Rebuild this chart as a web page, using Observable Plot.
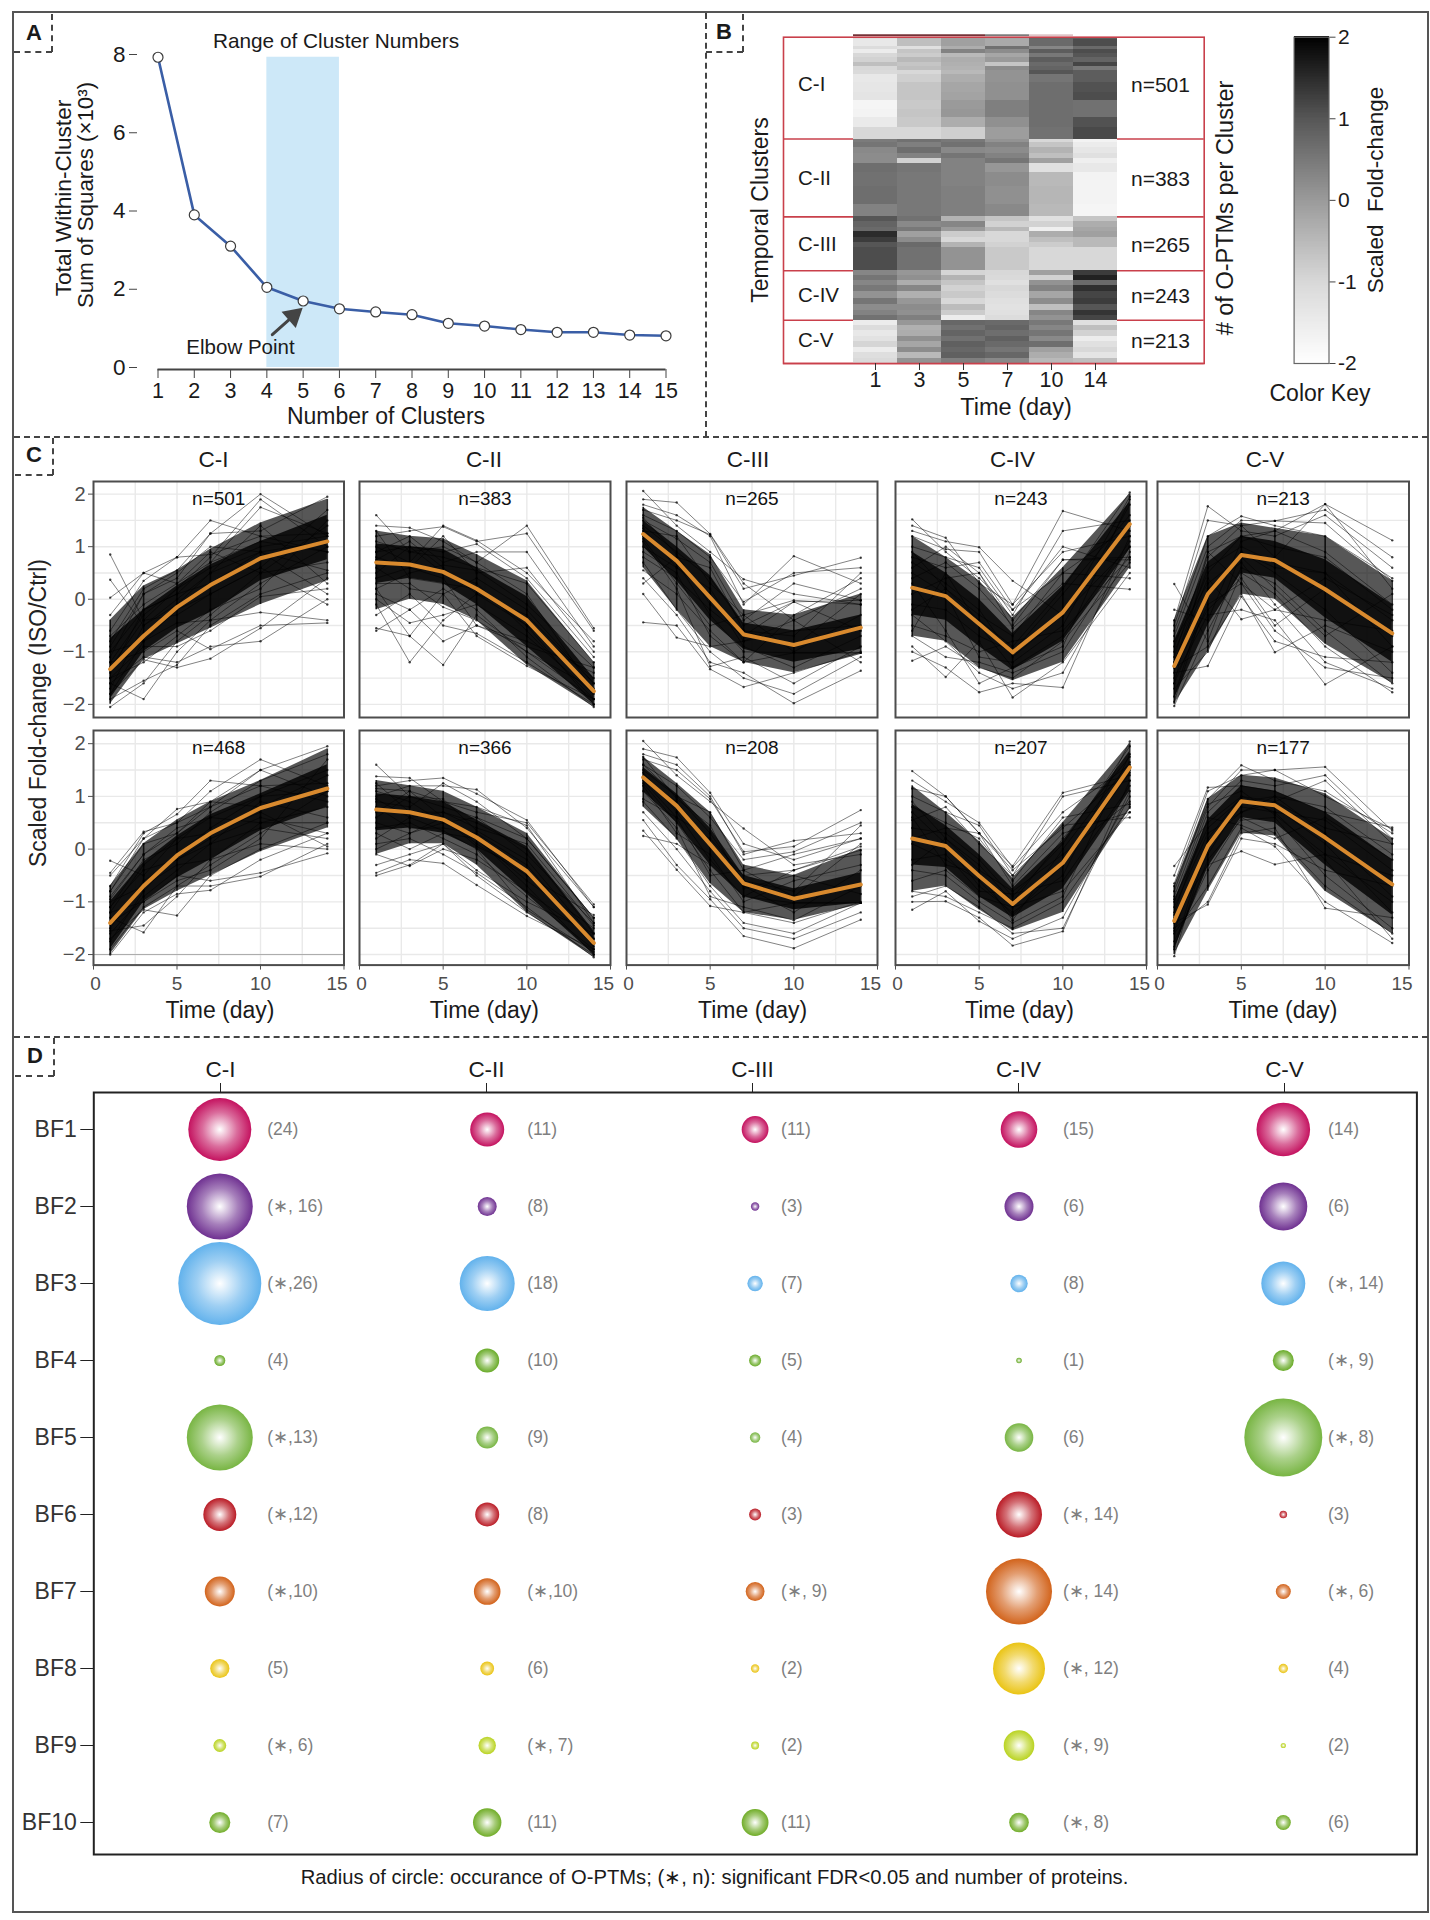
<!DOCTYPE html>
<html><head><meta charset="utf-8">
<script src="https://cdn.jsdelivr.net/npm/d3@7"></script>
<script src="https://cdn.jsdelivr.net/npm/@observablehq/plot@0.6"></script>
<style>
html,body{margin:0;padding:0;background:#fff}
#page{position:relative;width:1430px;height:1920px;overflow:hidden;font-family:"Liberation Sans",Arial,sans-serif;color:#1a1a1a}
.lab{position:absolute;white-space:pre;line-height:1}
.edge{position:absolute;box-sizing:border-box}
</style></head><body><div id="page"></div>
<script>
// ---------- Panel A ----------
const clusterCounts=[1,2,3,4,5,6,7,8,9,10,11,12,13,14,15];
const withinSS=[7.93,3.9,3.1,2.05,1.7,1.5,1.42,1.35,1.13,1.06,.97,.9,.9,.83,.81];
const elbowRange=[{x1:4,x2:6,y1:0,y2:7.93}];
const elbowArrow=[{x1:4.15,y1:.84,x2:4.73,y2:1.32}];
// ---------- Panel B ----------
const heatDays=["1","3","5","7","10","14"];
const clusterNames=["C-I","C-II","C-III","C-IV","C-V"];
const clusterSizes=[501,383,265,243,213];
const heatSpanI=[12,33,17,17,21,25,20,21,17,41,50,36,46,41,45,59];
const heatI=[[-1.2,-.5,-.1,-.2,.75,.9],[-1.4,-.6,-.1,-.25,.7,1.1],[-1.1,-1.2,-.3,.6,.3,.7],[-1.5,-.7,.35,.2,.9,1.1],[-1,-.8,-.5,-.2,.5,1],[-.9,-.5,-.3,0,.9,.8],[-.6,-.7,-.35,-.7,.7,1.2],[-1,-.6,-.4,.2,.8,.5],[-1.05,-1,-.5,.1,1,.9],[-1.4,-.85,-.3,.1,.55,.9],[-1.35,-.7,-.2,.15,.65,1.05],[-1.3,-.7,-.15,.15,.65,1.1],[-1.75,-.75,0,.4,.65,.6],[-1.7,-.7,.05,.4,.65,.6],[-1.45,-.75,-.3,.15,.65,1.05],[-1,-1,-.85,-.05,.6,1.15]];
const heatSpanII=[17,25,28,26,25,45,66,91,57,3];
const heatII=[[.45,.6,.5,.1,-1,-1.7],[.55,.4,.6,.35,-.7,-1.5],[.25,.65,.25,.2,-.4,-1.35],[.2,.35,.55,.35,-.6,-1.2],[.2,-.9,.35,.55,-.1,-1.6],[.65,.55,.35,.05,-1.2,-1.4],[.6,.5,.35,.2,-.5,-1.7],[.65,.5,.4,.15,-.45,-1.7],[.35,.5,.4,.25,-.5,-1.75],[1.2,.7,-.7,-.5,-.9,-.2]];
const heatSpanIII=[24,27,20,30,24,24,116];
const heatIII=[[1,.6,-.4,-.7,-1.2,-.7],[.8,.25,.3,-.9,-.9,-.3],[.7,.5,0,-.5,-1.6,-.2],[1.5,-.1,-.8,-1,-.3,-.1],[1.3,.2,-1,-1,-.6,-.5],[1,.7,-.4,-.9,-.8,-.5],[1.1,.6,.1,-.75,-1,-1]];
const heatSpanIV=[21,25,28,30,33,30,28,24,24];
const heatIV=[[.3,.05,-.95,-1,-.1,1.3],[.55,.15,-.4,-1.05,-.9,1.6],[.3,-.3,-.7,-1.2,.1,.7],[.5,.3,-.9,-1,.35,1.45],[.1,-.35,-.75,-1.1,-.2,1.2],[.55,.05,-1,-1.2,.2,1.3],[.2,.2,-.55,-1.25,-.6,1],[.35,.15,-.8,-1.2,.3,1.4],[.6,.4,-1.5,-1.1,.1,1.2]];
const heatSpanV=[25,25,28,29,25,28,29,24];
const heatV=[[-1.5,.05,.75,.7,.5,-1.2],[-1.1,-.35,.6,.8,.3,-.6],[-1.4,-.3,.8,.65,.55,-.9],[-1.25,.15,.6,.85,.25,-1.5],[-.95,-.2,.85,.7,.65,-1.2],[-1.5,.2,.75,.55,-.1,-1],[-1.15,-.5,.85,.75,-.3,-1.3],[-1.05,.1,.4,.25,-.5,-.6]];
const keyTicks=[-2,-1,0,1,2];
// ---------- Panel C ----------
const days=[1,3,5,7,10,14];
const nTop=[501,383,265,243,213], nBottom=[468,366,208,207,177];
const meanTop=[[-1.33,-.7,-.15,.27,.78,1.1],[.7,.66,.52,.2,-.4,-1.75],[1.24,.73,.03,-.67,-.87,-.54],[.22,.06,-.47,-1.01,-.25,1.43],[-1.27,.1,.84,.74,.19,-.65]];
const meanBottom=[[-1.4,-.7,-.12,.3,.78,1.15],[.75,.7,.56,.22,-.42,-1.78],[1.36,.82,.09,-.65,-.94,-.67],[.2,.06,-.51,-1.04,-.26,1.55],[-1.36,.06,.91,.83,.22,-.67]];
// each band list: wide high, wide low, core high, core low
const bandsTop=[
[[-.4,.25,.55,.95,1.45,1.9],[-2,-1.15,-.85,-.55,-.1,.35],[-.75,-.2,.25,.65,1.1,1.6],[-1.9,-1,-.55,-.25,.35,.75]],
[[1.3,1.2,1.15,.85,.35,-1.2],[-.2,0,-.1,-.4,-1.25,-2.05],[1.05,1,.95,.6,.05,-1.5],[.3,.4,.3,-.1,-.9,-2]],
[[1.75,1.3,.85,-.2,-.3,.1],[.6,-.2,-.9,-1.2,-1.4,-1.05],[1.5,1,.45,-.45,-.6,-.3],[1,.35,-.4,-.95,-1.2,-.95]],
[[1.2,.8,.35,-.35,.6,2],[-.7,-.8,-1.3,-1.55,-1.2,.6],[.9,.5,0,-.65,.25,1.85],[-.3,-.4,-.9,-1.35,-.8,.95]],
[[-.4,1.2,1.45,1.35,1.2,.35],[-2,-1,.1,0,-.85,-1.6],[-.8,.7,1.2,1.1,.75,-.1],[-1.9,-.5,.5,.4,-.35,-1.2]]];
const bandsBottom=[
[[-.7,.1,.55,.9,1.3,1.9],[-2,-1.15,-.8,-.5,-.05,.4],[-1,-.25,.25,.65,1.05,1.6],[-1.9,-1,-.55,-.2,.35,.8]],
[[1.3,1.2,1.1,.8,.3,-1.3],[-.1,.1,.1,-.3,-1.2,-2.05],[1.05,1,.9,.55,.05,-1.55],[.35,.4,.3,0,-.85,-2]],
[[1.75,1.25,.7,-.3,-.5,0],[.8,.2,-.65,-1.2,-1.35,-1.05],[1.55,1.05,.4,-.5,-.75,-.45],[1.1,.5,-.3,-.9,-1.15,-1.02]],
[[1.2,.7,.15,-.55,.5,2],[-.8,-.7,-1.15,-1.55,-1.2,.75],[.85,.45,-.1,-.75,.15,1.85],[-.3,-.35,-.9,-1.3,-.75,1.1]],
[[-.7,.95,1.4,1.35,1.05,.2],[-2,-.8,.3,.25,-.8,-1.6],[-1,.55,1.2,1.1,.7,-.2],[-1.9,-.35,.6,.5,-.3,-1.25]]];
const tracesTopI=[[.85,-.4,.2,.6,1,1.2],[.37,-.5,-.1,.5,.9,1.1],[.03,.5,.3,.7,1.1,.9],[-.3,.5,.8,.85,1.2,.9],[-.6,.35,.8,1.5,1.2,1.25],[-.8,.2,.55,1.25,1.3,1.95],[-1.1,.1,.4,1.25,2,1.2],[-1.2,-.3,.2,.8,1.9,1],[-1.4,-.2,.1,.7,1.75,1.25],[-1.6,-1.9,-1,-.4,.3,1],[-2.05,-1.6,-.8,-.3,.5,.7],[-1.9,-1.55,-1.25,-.5,.1,.5],[-1.8,-1.15,-1.3,-1.13,-.55,.4],[-1.6,-1.1,-1.2,-.9,-.8,0],[-1.2,-1,-.6,-.95,-.5,-.45],[-1,-.8,-.45,-.4,-.25,-.4],[-1.5,-.9,-.9,-.6,.05,.2],[-1.3,-.4,-.3,.1,.6,-.1],[-1,-.2,.1,.3,.9,.1],[-1.7,-.5,0,.5,1.4,.3],[-.9,.1,.5,1,.9,.55],[-1.5,-1.2,-.7,-.2,.2,1.5],[-1.8,-.8,-.2,.1,.6,1.7],[-.7,-.1,.3,.9,.5,1.4]];
const tracesTopII=[[1.6,.9,.8,.6,.3,-1.2],[1.4,1.36,1.1,.7,1.4,-.55],[1.2,1.3,1.38,1.1,1.25,-.6],[1,.7,1.4,1.12,.5,-.8],[.9,1.2,.7,.9,.9,-.9],[.8,.6,1.2,.5,.6,-1],[.5,1,.9,1.05,.4,-1.1],[-.1,-1.2,-.4,.1,-.5,-1.5],[.2,-.7,-1.25,-.3,-1,-1.7],[-.6,-.2,-.8,-.5,-.8,-1.4],[-.55,-.7,.1,-.7,-1.27,-1.9],[-.3,.1,-.5,-.65,-1.2,-2],[0,-.45,-.3,-.1,-.7,-1.8],[.1,-.2,.2,-.2,-1.1,-2.05],[.3,.3,-.15,-.4,-1,-1.9],[.6,.2,.1,.4,-.2,-1.6],[.4,.6,.4,-.5,-.9,-1.3],[.9,1,.5,.3,-.6,-1.9],[1.1,.9,1,.7,.1,-1.75],[.75,1.1,.6,.1,-.3,-1.6],[.2,.5,.65,.55,-.1,-1.3],[1.3,.4,.3,.2,-.5,-2]];
const tracesTopIII=[[2.06,1.4,.9,.38,.1,-.1],[1.9,1.84,1.24,.3,-.4,.2],[1.8,1.6,1.2,-.1,.82,.3],[1.7,1.5,1.23,.2,.45,.79],[1.6,1.3,.8,-.05,.5,.6],[1.5,1.15,.7,-.4,.3,-.02],[1.4,.9,.4,-.5,-.05,-.02],[1.3,1.2,.3,-.3,-.02,-.1],[.8,.4,-.2,-.7,-.05,-.6],[.55,.1,-.6,-1.2,-.3,.4],[.1,-.73,-.9,-.8,-.6,-.5],[-.44,-.5,-1.33,-1.67,-1.4,-1],[.4,-.3,-1.2,-1.4,-1.98,-1.36],[.7,-.2,-1,-1.5,-1.8,-1.1],[1.1,.2,-1.28,-1.1,-1.6,-.9],[.9,.5,-.7,-1.2,-1.02,-1.02],[1.2,.7,-.3,-1,-1.02,-1.02],[1.35,.6,.1,-.9,-1.3,-.7],[1.55,.85,-.1,-.6,-.9,.1],[1,.6,.2,-.8,-.4,-1.2],[1.15,.3,-.5,-.3,-1,-.3],[.3,.8,.6,-.6,-.7,.5]];
const tracesTopIV=[[1.52,.9,.4,-.2,.5,1.4],[1.4,1.17,.3,-.1,.9,1.2],[1.3,1.1,.99,.35,-.3,1],[1.2,.95,.9,-.1,1.68,1.3],[1,.8,.6,-.3,1.3,1.5],[.8,.6,.7,-.2,1,.6],[.6,1,.5,-.4,.75,.75],[.4,.7,.2,-.5,.75,.8],[.1,.4,.5,-.55,.3,.19],[-.2,.2,-.3,-.7,.5,.4],[-.5,-.7,-1,-.8,-.6,.8],[-.7,-1.1,-1.2,-1.4,-1,1],[-1.17,-.9,-1.3,-1.5,-.8,.7],[-.9,-1.48,-.8,-1.87,-1.2,.5],[-1,-1.3,-1.77,-1.6,-1.68,1.2],[-.3,-.8,-1.4,-1.7,-1.4,.9],[.3,-.6,-1.6,-1.3,-.9,1.9],[.9,.2,-.4,-.9,.2,2.03],[.5,.1,-1.1,-1.2,-.5,1.8],[-.1,-.2,-.7,-1,.1,1.6],[.7,.3,-.2,-1.1,-.3,1.95],[-.6,.5,-.5,-1.3,-.7,1.1]];
const tracesTopV=[[.29,-.8,.9,.6,.5,-.4],[-.2,-.4,1.1,1.3,1.81,1.12],[-.4,1.77,1.3,1.2,1.6,.6],[-.5,1.5,1.4,1.49,1.7,.8],[-.6,1.2,1.58,1.4,1.2,.4],[-.7,1,1.5,1.49,1.45,.35],[-.9,.8,1.4,.8,1.81,.2],[-1,.5,1.2,1.3,.9,-.1],[-1.1,.9,.3,-.2,.4,-.3],[-1.2,.4,-.38,-.2,-.4,-.6],[-1.3,-.9,.1,-1.01,-.5,-1],[-1.4,-1.27,.05,-.8,-1.1,-1.2],[-1.5,-.3,-.2,-.4,-1.62,-.9],[-1.6,-.1,.3,-.6,-1.3,-1.5],[-1.7,-1,.5,.1,-.9,-1.77],[-1.85,.2,.7,-.1,-1.2,-1.7],[-2.03,-.6,.6,.3,-.6,-1.6],[-1.95,.1,.9,.5,-.2,-1.4],[-1.2,.6,1,.7,.5,-.9],[-.8,.3,.8,.2,-.7,.1],[-1.6,.9,1.2,1,.8,-.2],[-1.3,-.2,.4,-.5,.2,-.7]];
const tracesBottomI=[[-.22,-.5,.2,.6,1,1.1],[-.45,.33,.5,.8,1.2,.9],[-.5,.2,.76,.9,1.5,1],[-.7,.3,.66,1.3,1.2,1.25],[-.8,.2,.5,1.1,1.7,1.2],[-.9,-.1,.3,.8,1.5,1.95],[-1.1,-.2,.1,.7,1.3,1.8],[-1.3,-1.58,-.7,-.3,.3,1.1],[-1.55,-1.45,-.9,-.2,.5,.8],[-1.7,-1.15,-1.26,-.5,0,.5],[-2,-1.2,-.85,-.78,-.2,.3],[-1.9,-1.1,-.7,-.7,-.52,.1],[-1.2,-1,-.5,-.6,-.45,-.08],[-1,-.7,-.3,-.2,.1,0],[-1.5,-.6,-.2,.1,.4,.2],[-1.2,-.3,.2,.3,.7,.05],[-.95,-.1,.4,.6,.5,.5],[-1.6,-.9,-.4,.1,.9,.6],[-1.75,-.8,-.1,.4,1,1.5],[-.8,.1,.3,.9,.8,1.4],[-1.4,-1,-.6,-.4,.2,1.7],[-1.1,-.4,-.2,.2,.6,.3]];
const tracesBottomII=[[1.6,1,.8,.6,.2,-1.3],[1.38,1.35,.9,.7,.5,-1.05],[1.2,1.3,1.35,1.05,.55,-1.1],[1,1.2,1.2,1.13,.4,-1.1],[.9,.8,1.25,.9,.2,-1.3],[.7,1.1,.9,.8,.45,-1.4],[-.5,-.3,.1,-.4,-1,-1.6],[-.45,-.2,-.27,-.68,-1.27,-1.9],[-.3,-.1,.1,-.5,-1.2,-2],[-.1,-.32,0,-.2,-.8,-1.7],[.1,.2,-.1,-.45,-1.1,-2.05],[.3,0,.3,.2,-.6,-1.5],[.4,.5,.2,-.1,-.9,-1.9],[.5,.3,.6,.1,-.5,-1.25],[.8,.4,.4,.3,-.3,-1.8],[1.1,.9,.5,.2,-.7,-2],[1.25,.7,.7,.5,0,-1.6],[.2,.6,.7,.4,.1,-1.45],[.6,1,.95,.35,-.2,-1.7],[0,.3,.5,.6,-.1,-1.4],[.95,.6,.35,0,-1.15,-1.95],[1.15,1.1,.6,.05,-.4,-1.85]];
const tracesBottomIII=[[2.05,1.4,.9,.39,-.3,-.1],[1.9,1.74,1.07,.1,-.2,.2],[1.8,1.6,1,-.1,.16,.3],[1.7,1.5,.95,-.05,.05,.74],[1.6,1.2,.6,-.2,-.05,.5],[1.5,1,.7,-.4,-.1,.2],[.95,.6,.2,-.5,-.4,.05],[.25,.1,-.3,-.9,-.4,-.02],[.35,-.39,-1.08,-1.2,-1.4,-1],[.55,-.3,-.95,-1.65,-1.88,-1.34],[.7,0,-.8,-1.5,-1.7,-1.2],[.9,.2,-.7,-1.4,-1.6,-1.02],[1.1,.4,-.9,-1.1,-1.35,-.7],[1.25,.5,-.4,-1.2,-1.02,-1.02],[1.45,.7,-.2,-.9,-1.02,-1.02],[1.35,.9,.1,-.7,-1.2,-.4],[1.2,.3,-.1,-1,-.6,-.3],[1.6,1,.3,-.6,-.8,.45],[1.3,.6,-.5,-.4,-.9,.1],[1.75,.95,.45,-.75,-.5,-.85]];
const tracesBottomIV=[[1.48,1,.3,-.4,.4,1.5],[1.3,.9,.5,-.35,.7,1.6],[1.15,1,.3,-.32,1.07,1.4],[1,.7,.45,-.5,1,1.3],[.8,.5,.2,-.6,.6,.85],[.55,.8,.1,-.5,.45,.6],[.2,.4,.3,-.7,.3,.7],[-.3,.2,-.4,-.8,-.1,.9],[-.6,-.4,-.9,-1.1,-.8,.7],[-.8,-.9,-1.2,-1.5,-1,.8],[-1.15,-.8,-1.37,-1.7,-1.3,1],[-1,-.99,-1.3,-1.83,-1.56,1.3],[-.9,-.7,-1.1,-1.6,-1.5,1.1],[-.4,-.5,-1,-1.4,-.9,1.8],[.7,.1,-.7,-1.2,-.5,2.04],[.4,.3,-.2,-.9,.1,1.95],[.9,.2,-.3,-1,.2,1.75],[.1,-.2,-.6,-1.25,-.3,1.45],[-.2,-.1,-.8,-.85,-.6,1.2],[.6,-.3,-.45,-1.35,0,1.65]];
const tracesBottomV=[[-.32,.5,1,.9,.4,.1],[-.5,1.17,1.2,1.1,.7,.41],[-.65,1.1,1.4,1.5,1,.38],[-.8,.95,1.59,1.3,1.1,.3],[-.9,.8,1.5,1.5,1.56,.35],[-1,.7,1.3,1.2,1.4,.2],[-1.1,.3,.7,.9,1.3,.1],[-1.2,.6,.45,.2,.6,-.2],[-1.3,-.3,-.04,-.29,-.1,-.5],[-1.4,-1.05,.2,.1,-.4,-.7],[-1.5,-1,.3,.4,-1.12,-1.3],[-1.6,-.7,.4,.05,-1,-1.78],[-1.75,-.4,.6,.3,-.7,-1.6],[-1.85,-.2,.55,.6,-.5,-1.5],[-2.03,.1,.8,.7,-.2,-1.7],[-1.9,.2,1,.8,.1,-1.2],[-1.25,-.1,.9,1,.3,-.9],[-.95,.4,.95,.7,.55,-.4],[-.7,.85,1.1,.65,-.1,-1],[-1.55,.15,.7,1,.8,-.1]];
const gridDays=[2.5,5,7.5,10,12.5];
const gridFold=[-2,-1.5,-1,-.5,0,.5,1,1.5,2];
const timeTicks=[0,5,10,15];
// ---------- Panel D ----------
const bioFunctions=["BF1","BF2","BF3","BF4","BF5","BF6","BF7","BF8","BF9","BF10"];
const bfColors=["#c4125f","#6f3191","#62b2ec","#69ab28","#78b543","#ba1c26","#d2631b","#eac414","#b9d321","#71ad29"];
const occurrenceI=[31.5,33,41.5,5.5,33,16.5,15,9.6,6.4,10.5];
const occurrenceII=[17,9.5,27.5,12,11,12,13.3,6.9,8.7,14.2];
const occurrenceIII=[13.4,4.2,7.7,6,5.2,6,9.4,4.2,4,13.4];
const occurrenceIV=[18.3,14.5,8.7,2.8,14.3,23,33,26,15.3,9.8];
const occurrenceV=[26.8,24,22,10.5,39,3.8,7.5,4.7,2.6,7.5];
const proteinsI=["(24)","(∗, 16)","(∗,26)","(4)","(∗,13)","(∗,12)","(∗,10)","(5)","(∗, 6)","(7)"];
const proteinsII=["(11)","(8)","(18)","(10)","(9)","(8)","(∗,10)","(6)","(∗, 7)","(11)"];
const proteinsIII=["(11)","(3)","(7)","(5)","(4)","(3)","(∗, 9)","(2)","(2)","(11)"];
const proteinsIV=["(15)","(6)","(8)","(1)","(6)","(∗, 14)","(∗, 14)","(∗, 12)","(∗, 9)","(∗, 8)"];
const proteinsV=["(14)","(6)","(∗, 14)","(∗, 9)","(∗, 8)","(3)","(∗, 6)","(4)","(2)","(6)"];

// ---------- layout helpers ----------
const page=document.getElementById("page");
const font='"Liberation Sans",Arial,sans-serif';
const base={style:{background:"transparent",fontFamily:font,color:"#1a1a1a"}};
function place(node,left,top){node.style.position="absolute";node.style.left=left+"px";node.style.top=top+"px";node.style.overflow="visible";page.append(node);return node}
function lab(text,x,y,size,o={}){const d=document.createElement("div");d.className="lab";d.textContent=text;
 d.style.cssText+=`left:${x}px;top:${y}px;font-size:${size}px;color:${o.color||"#1a1a1a"};font-weight:${o.weight||"normal"};transform:translate(${o.start?"0":"-50%"},-50%) ${o.rot?"rotate(-90deg)":""}`;page.append(d)}
function edge(css){const d=document.createElement("div");d.className="edge";d.style.cssText+=css;page.append(d)}
const dash="2px dashed #444";

// frame and separators
edge("left:12px;top:11px;width:1417px;height:1902px;border:2px solid #555");
edge(`left:705px;top:13px;height:424px;width:0;border-left:${dash}`);
edge(`left:14px;top:436px;width:1414px;height:0;border-top:${dash}`);
edge(`left:14px;top:1036px;width:1414px;height:0;border-top:${dash}`);
edge(`left:51px;top:14px;height:38px;width:0;border-left:${dash}`);
edge(`left:14px;top:51px;width:38px;height:0;border-top:${dash}`);
edge(`left:742px;top:14px;height:38px;width:0;border-left:${dash}`);
edge(`left:706px;top:51px;width:37px;height:0;border-top:${dash}`);
edge(`left:52px;top:438px;height:37px;width:0;border-left:${dash}`);
edge(`left:15px;top:474px;width:38px;height:0;border-top:${dash}`);
edge(`left:53px;top:1038px;height:38px;width:0;border-left:${dash}`);
edge(`left:15px;top:1075px;width:39px;height:0;border-top:${dash}`);
lab("A",34,33,22,{weight:"bold"});lab("B",724,32,22,{weight:"bold"});lab("C",34,455,22,{weight:"bold"});lab("D",35,1056,22,{weight:"bold"});

// ---------- Panel A chart ----------
const elbow=clusterCounts.map((k,i)=>({k,ss:withinSS[i]}));
place(Plot.plot({...base,width:700,height:430,marginLeft:137,marginBottom:61,marginTop:40,marginRight:20,
 x:{domain:[1,15],range:[157.5,665.5]},y:{domain:[0,8],range:[367,54]},
 marks:[
  Plot.rect(elbowRange,{x1:"x1",x2:"x2",y1:"y1",y2:"y2",fill:"#cde8f8"}),
  Plot.ruleY([0],{x1:1,x2:15,dy:2,stroke:"#444",strokeWidth:2}),
  Plot.axisX({ticks:clusterCounts,tickSize:9,tickPadding:4,fontSize:21.5,label:null,tickFormat:d=>d,stroke:"#444"}),
  Plot.axisY({ticks:[0,2,4,6,8],tickSize:8,tickPadding:4,fontSize:22.5,label:null,stroke:"#444"}),
  Plot.line(elbow,{x:"k",y:"ss",stroke:"#3a5ea6",strokeWidth:2.6}),
  Plot.dot(elbow,{x:"k",y:"ss",r:5,fill:"#fff",stroke:"#3c3c3c",strokeWidth:1.2}),
  Plot.arrow(elbowArrow,{x1:"x1",y1:"y1",x2:"x2",y2:"y2",stroke:"#444",strokeWidth:3,headLength:0}),
  Plot.dot(elbowArrow,{x:"x2",y:"y2",symbol:"triangle",r:8,rotate:48.7,fill:"#444"})
 ]}),0,0);
lab("Range of Cluster Numbers",336,41,20.8);
lab("Elbow Point",240.5,347,20.5);
lab("Number of Clusters",386,416,23);
lab("Total Within-Cluster",63,198,22.7,{rot:1});
lab("Sum of Squares (×10³)",86,195,22.3,{rot:1});

// ---------- Panel B chart ----------
const heatColor={type:"linear",domain:[-2,-1,0,1,2],range:["#ffffff","#d8d8d8","#9a9a9a","#565656","#000000"],interpolate:"rgb"};
const heatBlocks=[[heatSpanI,heatI],[heatSpanII,heatII],[heatSpanIII,heatIII],[heatSpanIV,heatIV],[heatSpanV,heatV]];
const heatCells=[];let rank=0;
for(const [spans,vals] of heatBlocks){spans.forEach((s,i)=>{vals[i].forEach((v,j)=>heatCells.push({day:heatDays[j],r0:rank,r1:rank+s,v}));rank+=s})}
const clusterEdges=d3.cumsum(clusterSizes);
place(Plot.plot({...base,width:460,height:380,marginLeft:13,marginRight:26.3,marginTop:16.7,marginBottom:37,
 x:{type:"band",domain:heatDays,range:[82,348],padding:0},
 y:{domain:[0,1605],range:[16.7,343],axis:null},
 color:heatColor,
 marks:[
  Plot.ruleY(clusterEdges,{stroke:"#c9404b",strokeWidth:1.6}),
  Plot.barY(heatCells,{x:"day",y1:"r0",y2:"r1",fill:"v",inset:0,shapeRendering:"crispEdges"}),
  Plot.barY(["1","3","5"],{x:d=>d,y1:-12,y2:-3,fill:"#743338",inset:0}),
  Plot.barY(["7"],{x:d=>d,y1:-12,y2:-3,fill:"#7c7c7c",inset:0}),
  Plot.barY(["10"],{x:d=>d,y1:-12,y2:-3,fill:"#ddc5c8",inset:0}),
  Plot.frame({stroke:"#c9404b",strokeWidth:1.6}),
  Plot.axisX({anchor:"bottom",tickSize:7,tickPadding:1,fontSize:21.5,label:null,stroke:"#333"})
 ]}),770,20);
const blockMid=[84,178,244,295,340];
clusterNames.forEach((c,i)=>{lab(c,798,blockMid[i],20.5,{start:1});lab("n="+clusterSizes[i],1131,blockMid[i],21,{start:1})});
lab("Temporal Clusters",760,210,23,{rot:1});
lab("# of O-PTMs per Cluster",1226,208,23.5,{rot:1});
lab("Time (day)",1016,408,23.5);
// colour key
const keySteps=d3.range(-2,2,.02);
place(Plot.plot({...base,width:90,height:380,marginLeft:13.6,marginRight:41.5,marginTop:16.7,marginBottom:37,
 x:{domain:[0,1],axis:null},y:{domain:[-2,2],range:[343,16.7]},color:heatColor,
 marks:[
  Plot.rect(keySteps,{x1:0,x2:1,y1:d=>d,y2:d=>d+.03,fill:d=>d+.01,shapeRendering:"crispEdges"}),
  Plot.frame({stroke:"#666",strokeWidth:1.2}),
  Plot.axisY({anchor:"right",ticks:keyTicks,tickSize:6,tickPadding:3,fontSize:21,label:null,tickFormat:d=>String(d),stroke:"#444"})
 ]}),1280,20);
lab("Scaled  Fold-change",1376,190,22.5,{rot:1});
lab("Color Key",1320,393,23);

// ---------- Panel C chart ----------
const tracesTop=[tracesTopI,tracesTopII,tracesTopIII,tracesTopIV,tracesTopV];
const tracesBottom=[tracesBottomI,tracesBottomII,tracesBottomIII,tracesBottomIV,tracesBottomV];
const colLeft=[93,359,626,894.5,1157], colRight=[343.5,610,877,1145.5,1408.5];
const foldFormat=d=>d<0?"−"+(-d):String(d);
function trendPanel(col,row){
 const top=row===0, means=(top?meanTop:meanBottom)[col], band=(top?bandsTop:bandsBottom)[col], traces=(top?tracesTop:tracesBottom)[col], n=(top?nTop:nBottom)[col];
 const W=colRight[col]-colLeft[col], H=top?236:234.6, yTop=top?480.5:730;
 const bandRows=days.map((d,i)=>({d,wh:band[0][i],wl:band[1][i],ch:band[2][i],cl:band[3][i],m:means[i]}));
 const pts=traces.flatMap((t,id)=>t.map((v,i)=>({id,d:days[i],v})));
 const marks=[
  Plot.ruleX(gridDays,{stroke:"#e9e9e9",strokeWidth:1.4}),
  Plot.ruleY(gridFold,{stroke:"#e9e9e9",strokeWidth:1.4}),
  Plot.areaY(bandRows,{x:"d",y1:"wl",y2:"wh",fill:"#000",fillOpacity:.66}),
  Plot.areaY(bandRows,{x:"d",y1:"cl",y2:"ch",fill:"#000",fillOpacity:.8}),
  Plot.ruleX(bandRows,{x:"d",y1:"wl",y2:"wh",stroke:"#000",strokeWidth:1.6,strokeOpacity:.8}),
  Plot.lineY(pts,{x:"d",y:"v",z:"id",stroke:"#000",strokeOpacity:.55,strokeWidth:.9}),
  Plot.dot(pts,{x:"d",y:"v",r:1.2,fill:"#000",fillOpacity:.7}),
  Plot.lineY(bandRows,{x:"d",y:"m",stroke:"#d98a2e",strokeWidth:4}),
  Plot.text([n],{text:d=>"n="+d,frameAnchor:"top",dy:17,lineAnchor:"middle",fontSize:19,fill:"#111"}),
  Plot.frame({stroke:"#4d4d4d",strokeWidth:2})
 ];
 if(!top&&col===0)marks.splice(2,0,Plot.ruleY([-2],{stroke:"#aaa",strokeWidth:1}));
 if(col===0)marks.push(Plot.axisY({anchor:"left",ticks:[-2,-1,0,1,2],tickSize:5,tickPadding:3,fontSize:20,label:null,color:"#4d4d4d",tickFormat:foldFormat}));
 if(!top){
  marks.push(Plot.axisX({anchor:"bottom",ticks:timeTicks,tickSize:5,tickPadding:3,label:null,color:"#4d4d4d",tickFormat:()=>""}));
  [[0,2],[5,0],[10,0],[15,-7]].forEach(([t,dx])=>marks.push(Plot.text([t],{x:d=>d,text:d=>String(d),frameAnchor:"bottom",dy:19,dx,lineAnchor:"middle",fontSize:19,fill:"#4d4d4d"})));
 }
 place(Plot.plot({...base,width:W+52,height:H+10+(top?10:50),marginLeft:40,marginRight:12,marginTop:10,marginBottom:top?10:50,
  x:{domain:[0,15],...(top?{axis:null}:{})},
  y:{domain:top?[-2.25,2.24]:[-2.2,2.25],...(col?{axis:null}:{})},
  marks}),colLeft[col]-40,yTop-10);
}
for(const row of [0,1])for(const col of [0,1,2,3,4])trendPanel(col,row);
const titleX=[213.5,484,748,1012.5,1265];
clusterNames.forEach((c,i)=>lab(c,titleX[i],460,22.5));
const timeX=[220,484.4,752.6,1019.5,1283];
timeX.forEach(x=>lab("Time (day)",x,1010,23));
lab("Scaled Fold-change (ISO/Ctrl)",37.5,713,23,{rot:1,color:"#222"});

// ---------- Panel D chart ----------
const occ=[occurrenceI,occurrenceII,occurrenceIII,occurrenceIV,occurrenceV];
const prot=[proteinsI,proteinsII,proteinsIII,proteinsIV,proteinsV];
const dotNudge=[-.7,.7,2.6,.5,-1.2], textNudge=[46.7,40.7,28.6,44.5,43.5];
const bubbles=clusterNames.flatMap((c,j)=>bioFunctions.map((b,i)=>({c,b,j,occ:occ[j][i],txt:prot[j][i]})));
const bubbleMarks=clusterNames.flatMap((c,j)=>[
  Plot.dot(bubbles.filter(d=>d.j===j),{x:"c",y:"b",r:"occ",fill:d=>`url(#grad-${d.b})`,dx:dotNudge[j]}),
  Plot.text(bubbles.filter(d=>d.j===j),{x:"c",y:"b",text:"txt",dx:textNudge[j],textAnchor:"start",fontSize:17.5,fill:"#7f7f7f"})
]);
const dPlot=Plot.plot({...base,width:1430,height:830,marginLeft:93.3,marginTop:52,marginRight:13.6,marginBottom:16,
 x:{type:"point",domain:clusterNames,range:[218.7,1285],padding:0},
 y:{type:"point",domain:bioFunctions,range:[89,782],padding:0},
 r:{type:"linear",domain:[0,50],range:[0,50]},
 color:{type:"identity"},
 marks:[
  Plot.frame({stroke:"#222",strokeWidth:2}),
  Plot.axisX({anchor:"top",tickSize:10,tickPadding:6,fontSize:22.5,label:null,stroke:"#222"}),
  Plot.axisY({anchor:"left",tickSize:13,tickPadding:4,fontSize:23,label:null,stroke:"#222",color:"#333"}),
  ...bubbleMarks
 ]});
const defs=d3.select(dPlot).insert("defs",":first-child");
bioFunctions.forEach((b,i)=>{const g=defs.append("radialGradient").attr("id","grad-"+b);
 g.append("stop").attr("offset","0%").attr("stop-color","#ffffff");
 g.append("stop").attr("offset","55%").attr("stop-color",d3.interpolateRgb("#ffffff",bfColors[i])(.62));
 g.append("stop").attr("offset","100%").attr("stop-color",bfColors[i]);});
place(dPlot,0,1040);
lab("Radius of circle: occurance of O-PTMs; (∗, n): significant FDR<0.05 and number of proteins.",714.5,1877,20.2);
</script></body></html>
